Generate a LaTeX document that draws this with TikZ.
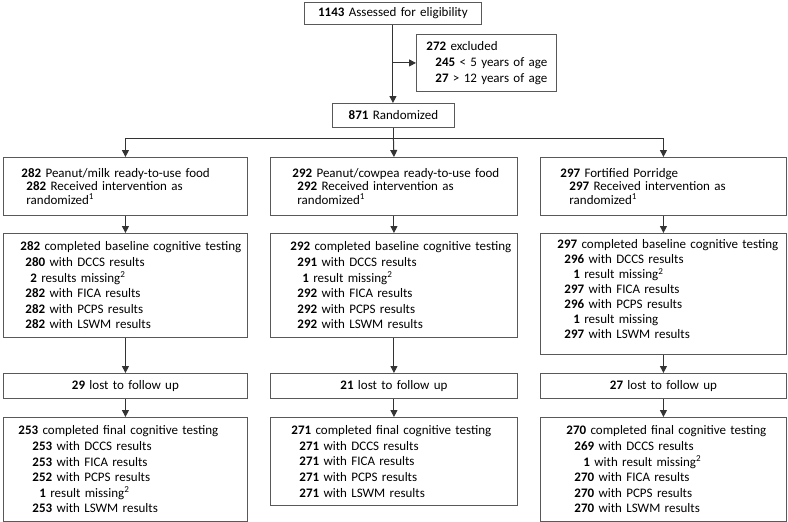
\documentclass[tikz,border=0pt]{standalone}
\usepackage{fontspec}
\setmainfont{Carlito}
\usetikzlibrary{arrows.meta}

\newcommand{\ind}[1]{\hspace*{#1pt}}
\newcommand{\cnt}[1]{\textbf{#1}}

\begin{document}
\begin{tikzpicture}[x=1pt, y=-1pt,
    main box/.style={draw=black!65, line width=0.9pt, anchor=north west, inner sep=0pt,
                     align=left, font=\fontsize{13pt}{15.6pt}\selectfont},
    title box/.style={main box, align=center},
    lost box/.style={main box, align=center, minimum height=25pt},
    arm box/.style={main box, minimum height=58pt, font=\fontsize{13pt}{13.3pt}\selectfont},
    flow line/.style={color=black!80, line width=1pt, -{Triangle[width=7pt,length=7pt]}}]

  \useasboundingbox (0,0) rectangle (788,522);

  % enrolment
  \node[title box, text width=177pt, minimum height=22pt] (assess) at (304,2) {\cnt{1143} Assessed for eligibility};
  \node[main box, text width=140pt, minimum height=57pt, font=\fontsize{13pt}{16pt}\selectfont] (excl) at (416,34)
    {\ind{10}\cnt{272} excluded\\\ind{19}\cnt{245} < 5 years of age\\\ind{19}\cnt{27} > 12 years of age};
  \node[title box, text width=122pt, minimum height=24pt] (rand) at (332,103) {\cnt{871} Randomized};

  % peanut/milk arm
  \node[arm box, text width=244pt] (foodA) at (3,157)
    {\ind{18}\cnt{282} Peanut/milk ready-to-use food\\\ind{23}\cnt{282} Received intervention as\\\ind{23}randomized\textsuperscript{1}};
  \node[main box, text width=244pt, minimum height=104pt] (baseA) at (3,233)
    {\ind{17}\cnt{282} completed baseline cognitive testing\\\ind{22}\cnt{280} with DCCS results\\\ind{27}\cnt{2} results missing\textsuperscript{2}\\\ind{22}\cnt{282} with FICA results\\\ind{22}\cnt{282} with PCPS results\\\ind{22}\cnt{282} with LSWM results};
  \node[lost box, text width=244pt] (lostA) at (3,373) {\cnt{29} lost to follow up};
  \node[main box, text width=244pt, minimum height=104pt] (finalA) at (3,417)
    {\ind{15}\cnt{253} completed final cognitive testing\\\ind{29}\cnt{253} with DCCS results\\\ind{29}\cnt{253} with FICA results\\\ind{29}\cnt{252} with PCPS results\\\ind{36}\cnt{1} result missing\textsuperscript{2}\\\ind{29}\cnt{253} with LSWM results};

  % peanut/cowpea arm
  \node[arm box, text width=247pt] (foodB) at (270,157)
    {\ind{22}\cnt{292} Peanut/cowpea ready-to-use food\\\ind{27}\cnt{292} Received intervention as\\\ind{27}randomized\textsuperscript{1}};
  \node[main box, text width=247pt, minimum height=104pt] (baseB) at (270,233)
    {\ind{20}\cnt{292} completed baseline cognitive testing\\\ind{27}\cnt{291} with DCCS results\\\ind{32}\cnt{1} result missing\textsuperscript{2}\\\ind{27}\cnt{292} with FICA results\\\ind{27}\cnt{292} with PCPS results\\\ind{27}\cnt{292} with LSWM results};
  \node[lost box, text width=247pt] (lostB) at (270,373) {\cnt{21} lost to follow up};
  \node[main box, text width=247pt, minimum height=88pt] (finalB) at (270,417)
    {\ind{21}\cnt{271} completed final cognitive testing\\\ind{29}\cnt{271} with DCCS results\\\ind{29}\cnt{271} with FICA results\\\ind{29}\cnt{271} with PCPS results\\\ind{29}\cnt{271} with LSWM results};

  % porridge arm
  \node[arm box, text width=246pt] (foodC) at (540,157)
    {\ind{20}\cnt{297} Fortified Porridge\\\ind{29}\cnt{297} Received intervention as\\\ind{29}randomized\textsuperscript{1}};
  \node[main box, text width=246pt, minimum height=121pt, font=\fontsize{13pt}{15pt}\selectfont] (baseC) at (540,233)
    {\ind{17}\cnt{297} completed baseline cognitive testing\\\ind{24}\cnt{296} with DCCS results\\\ind{33}\cnt{1} result missing\textsuperscript{2}\\\ind{24}\cnt{297} with FICA results\\\ind{24}\cnt{296} with PCPS results\\\ind{33}\cnt{1} result missing\\\ind{24}\cnt{297} with LSWM results\\[-5pt]\mbox{}};
  \node[lost box, text width=246pt] (lostC) at (540,373) {\cnt{27} lost to follow up};
  \node[main box, text width=246pt, minimum height=104pt] (finalC) at (540,417)
    {\ind{26}\cnt{270} completed final cognitive testing\\\ind{34}\cnt{269} with DCCS results\\\ind{43}\cnt{1} with result missing\textsuperscript{2}\\\ind{34}\cnt{270} with FICA results\\\ind{34}\cnt{270} with PCPS results\\\ind{34}\cnt{270} with LSWM results};

  % connectors
  \draw[flow line] (assess.south) -- (assess.south |- rand.north);
  \draw[flow line] (assess.south |- excl.west) -- (excl.west);
  \draw[color=black!80, line width=1pt] (rand.south) -- ++(0,11) coordinate (split);
  \draw[flow line] (split) -| (foodA.north);
  \draw[flow line] (split) -- (foodB.north);
  \draw[flow line] (split) -| (foodC.north);

  \path[flow line]
  (foodA) edge (baseA)
  (baseA) edge (lostA)
  (lostA) edge (finalA)
  (foodB) edge (baseB)
  (baseB) edge (lostB)
  (lostB) edge (finalB)
  (foodC) edge (baseC)
  (baseC) edge (lostC)
  (lostC) edge (finalC)
  ;
\end{tikzpicture}
\end{document}
